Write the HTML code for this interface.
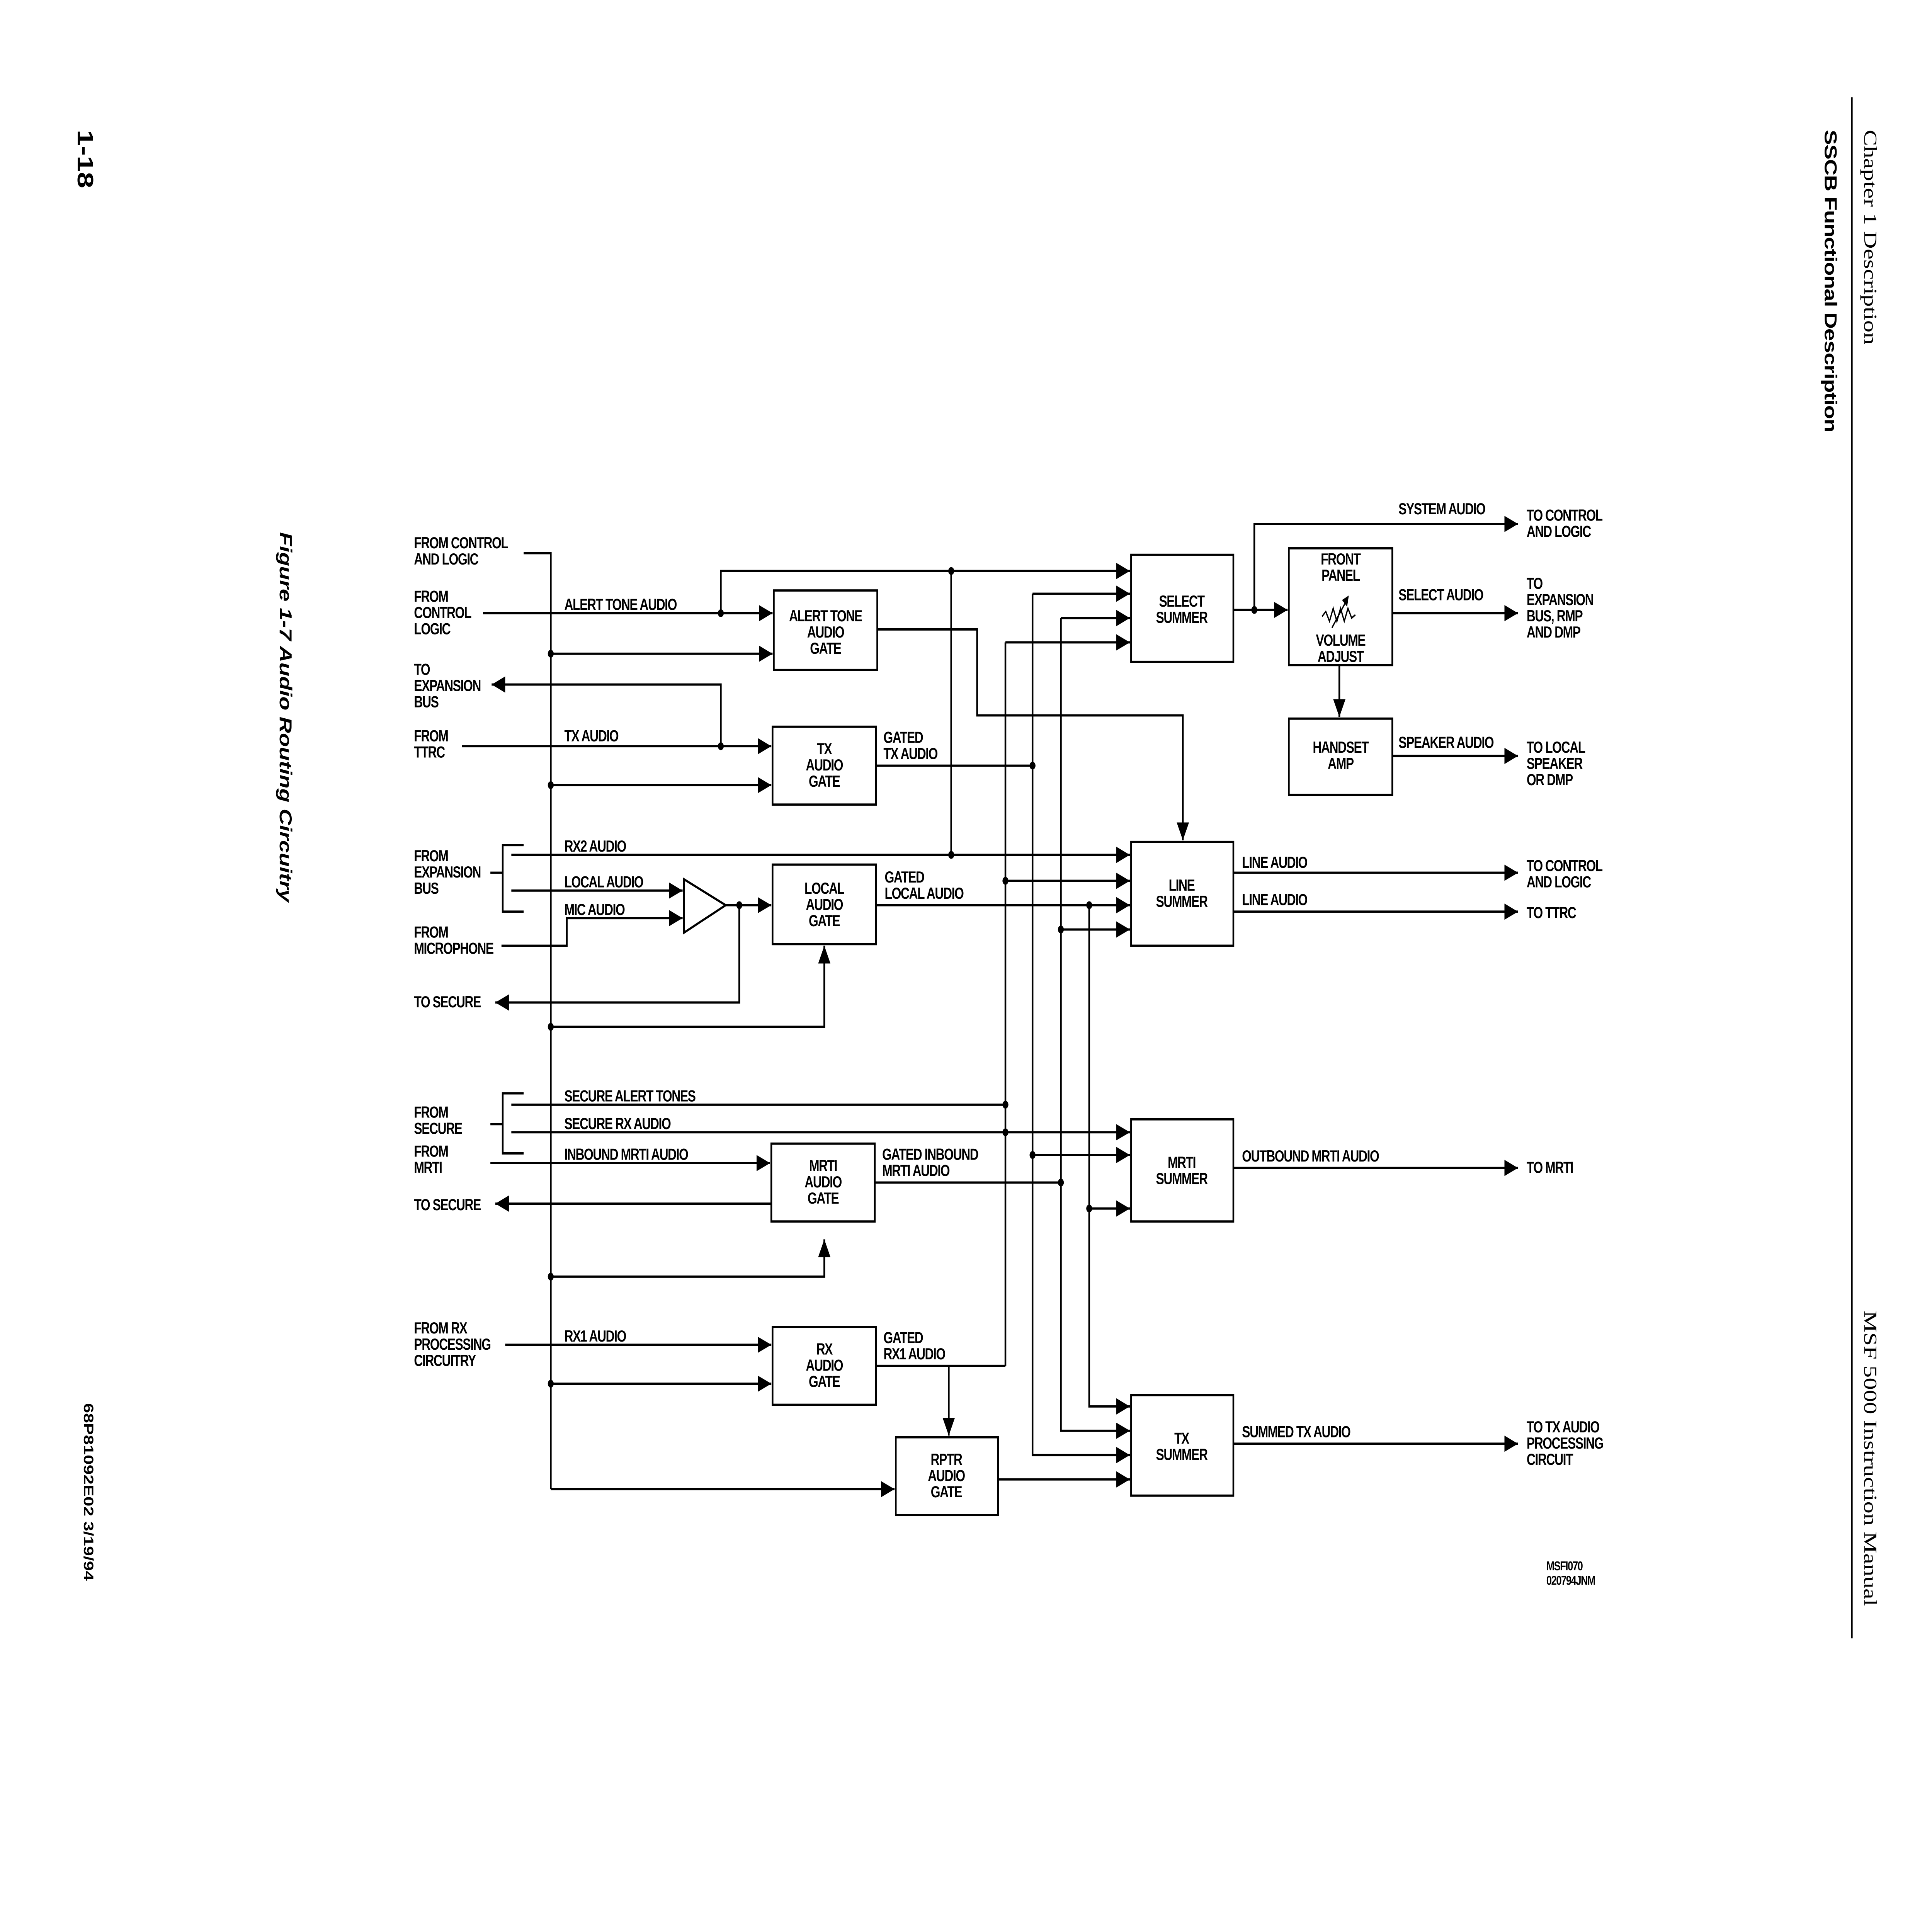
<!DOCTYPE html>
<html><head><meta charset="utf-8"><style>
html,body{margin:0;padding:0;background:#fff;width:100vw;height:100vh;overflow:hidden;}
svg{display:block;position:absolute;left:0;top:0;width:100vw;height:100vh;}
text{font-family:"Liberation Sans",Arial,sans-serif;font-weight:bold;font-size:10px;letter-spacing:-0.45px;fill:#000;}
.c{text-anchor:middle;}
</style></head><body>
<svg viewBox="0 0 1568 1191" preserveAspectRatio="none" xmlns="http://www.w3.org/2000/svg">
<defs>
<marker id="a" markerUnits="userSpaceOnUse" markerWidth="12" markerHeight="10" refX="11" refY="5" orient="auto"><path d="M0,0 L11,5 L0,10 Z" fill="#000"/></marker>
</defs>
<rect width="1568" height="1191" fill="#fff"/>
<g stroke="#000" stroke-width="1.4" fill="none">
<rect x="628" y="364" width="84" height="49"/>
<rect x="627" y="448" width="84" height="48"/>
<rect x="627" y="533" width="84" height="49"/>
<rect x="626" y="705" width="84" height="48"/>
<rect x="627" y="818" width="84" height="48"/>
<rect x="727" y="886" width="83" height="48"/>
<rect x="918" y="342" width="83" height="66"/>
<rect x="918" y="519" width="83" height="64"/>
<rect x="918" y="690" width="83" height="63"/>
<rect x="918" y="860" width="83" height="62"/>
<rect x="1046" y="338" width="84" height="72"/>
<rect x="1046" y="443" width="84" height="47"/>
<path d="M555,542 L555,575 L589,558 Z"/>
<path d="M425,521 L408,521 L408,562 L425,562 M398,538 L408,538"/>
<path d="M425,674 L408,674 L408,711 L425,711 M398,693 L408,693"/>
<path d="M425,341 L447,341 L447,918"/>
<path d="M447,918 L726,918" marker-end="url(#a)"/>
<path d="M447,403 L627,403" marker-end="url(#a)"/>
<path d="M447,484 L626,484" marker-end="url(#a)"/>
<path d="M447,633 L669,633 L669,583" marker-end="url(#a)"/>
<path d="M447,787 L669,787 L669,764" marker-end="url(#a)"/>
<path d="M447,853 L626,853" marker-end="url(#a)"/>
<path d="M392,378 L627,378" marker-end="url(#a)"/>
<path d="M585,378 L585,352 L917,352" marker-end="url(#a)"/>
<path d="M772,352 L772,527"/>
<path d="M712,388 L793,388 L793,441 L960,441 L960,518" marker-end="url(#a)"/>
<path d="M375,460 L626,460" marker-end="url(#a)"/>
<path d="M585,460 L585,422 L399,422" marker-end="url(#a)"/>
<path d="M711,472 L838,472"/>
<path d="M415,527 L917,527" marker-end="url(#a)"/>
<path d="M415,549 L554,549" marker-end="url(#a)"/>
<path d="M407,583 L460,583 L460,566 L554,566" marker-end="url(#a)"/>
<path d="M589,558 L626,558" marker-end="url(#a)"/>
<path d="M600,558 L600,618 L402,618" marker-end="url(#a)"/>
<path d="M711,558 L917,558" marker-end="url(#a)"/>
<path d="M816,543 L917,543" marker-end="url(#a)"/>
<path d="M861,573 L917,573" marker-end="url(#a)"/>
<path d="M838,366 L917,366" marker-end="url(#a)"/>
<path d="M861,381 L917,381" marker-end="url(#a)"/>
<path d="M816,396 L917,396" marker-end="url(#a)"/>
<path d="M816,396 L816,842"/>
<path d="M838,366 L838,897 L917,897" marker-end="url(#a)"/>
<path d="M861,381 L861,882 L917,882" marker-end="url(#a)"/>
<path d="M884,558 L884,867 L917,867" marker-end="url(#a)"/>
<path d="M415,681 L816,681"/>
<path d="M415,698 L917,698" marker-end="url(#a)"/>
<path d="M838,712 L917,712" marker-end="url(#a)"/>
<path d="M884,745 L917,745" marker-end="url(#a)"/>
<path d="M398,717 L625,717" marker-end="url(#a)"/>
<path d="M626,742 L402,742" marker-end="url(#a)"/>
<path d="M710,729 L861,729"/>
<path d="M410,829 L626,829" marker-end="url(#a)"/>
<path d="M711,842 L816,842"/>
<path d="M770,842 L770,885" marker-end="url(#a)"/>
<path d="M810,912 L917,912" marker-end="url(#a)"/>
<path d="M1001,376 L1045,376" marker-end="url(#a)"/>
<path d="M1018,376 L1018,323 L1232,323" marker-end="url(#a)"/>
<path d="M1130,378 L1232,378" marker-end="url(#a)"/>
<path d="M1087,410 L1087,442" marker-end="url(#a)"/>
<path d="M1130,466 L1232,466" marker-end="url(#a)"/>
<path d="M1001,538 L1232,538" marker-end="url(#a)"/>
<path d="M1001,562 L1232,562" marker-end="url(#a)"/>
<path d="M1001,720 L1232,720" marker-end="url(#a)"/>
<path d="M1001,890 L1232,890" marker-end="url(#a)"/>
<path d="M1073,380 L1076,377 L1079,383 L1082,375 L1085,383 L1088,375 L1091,383 L1094,375 L1097,381 L1100,379" stroke-width="1"/>
<path d="M1081,387 L1093,370" stroke-width="1"/>
<path d="M1090,370 L1094,368 L1093,373 Z" fill="#000" stroke-width="1"/>
<path d="M1503,60 L1503,1010" stroke-width="1.2"/>
</g>
<g fill="#000">
<circle cx="447" cy="403" r="2.4"/><circle cx="447" cy="484" r="2.4"/><circle cx="447" cy="633" r="2.4"/><circle cx="447" cy="787" r="2.4"/><circle cx="447" cy="853" r="2.4"/>
<circle cx="585" cy="378" r="2.4"/><circle cx="585" cy="460" r="2.4"/>
<circle cx="772" cy="352" r="2.4"/><circle cx="772" cy="527" r="2.4"/>
<circle cx="838" cy="472" r="2.4"/><circle cx="838" cy="712" r="2.4"/>
<circle cx="816" cy="543" r="2.4"/><circle cx="816" cy="681" r="2.4"/><circle cx="816" cy="698" r="2.4"/>
<circle cx="884" cy="558" r="2.4"/><circle cx="884" cy="745" r="2.4"/>
<circle cx="861" cy="573" r="2.4"/><circle cx="861" cy="729" r="2.4"/>
<circle cx="600" cy="558" r="2.4"/><circle cx="1018" cy="376" r="2.4"/>
</g>
<text x="336" y="338">FROM CONTROL</text><text x="336" y="348">AND LOGIC</text>
<text x="336" y="371">FROM</text><text x="336" y="381">CONTROL</text><text x="336" y="391">LOGIC</text>
<text x="336" y="416">TO</text><text x="336" y="426">EXPANSION</text><text x="336" y="436">BUS</text>
<text x="336" y="457">FROM</text><text x="336" y="467">TTRC</text>
<text x="336" y="531">FROM</text><text x="336" y="541">EXPANSION</text><text x="336" y="551">BUS</text>
<text x="336" y="578">FROM</text><text x="336" y="588">MICROPHONE</text>
<text x="336" y="621">TO SECURE</text>
<text x="336" y="689">FROM</text><text x="336" y="699">SECURE</text>
<text x="336" y="713">FROM</text><text x="336" y="723">MRTI</text>
<text x="336" y="746">TO SECURE</text>
<text x="336" y="822">FROM RX</text><text x="336" y="832">PROCESSING</text><text x="336" y="842">CIRCUITRY</text>
<text x="458" y="376">ALERT TONE AUDIO</text>
<text x="458" y="457">TX AUDIO</text>
<text x="458" y="525">RX2 AUDIO</text>
<text x="458" y="547">LOCAL AUDIO</text>
<text x="458" y="564">MIC AUDIO</text>
<text x="458" y="679">SECURE ALERT TONES</text>
<text x="458" y="696">SECURE RX AUDIO</text>
<text x="458" y="715">INBOUND MRTI AUDIO</text>
<text x="458" y="827">RX1 AUDIO</text>
<text x="717" y="458">GATED</text><text x="717" y="468">TX AUDIO</text>
<text x="718" y="544">GATED</text><text x="718" y="554">LOCAL AUDIO</text>
<text x="716" y="715">GATED INBOUND</text><text x="716" y="725">MRTI AUDIO</text>
<text x="717" y="828">GATED</text><text x="717" y="838">RX1 AUDIO</text>
<text x="1135" y="317">SYSTEM AUDIO</text>
<text x="1135" y="370">SELECT AUDIO</text>
<text x="1135" y="461">SPEAKER AUDIO</text>
<text x="1008" y="535">LINE AUDIO</text>
<text x="1008" y="558">LINE AUDIO</text>
<text x="1008" y="716">OUTBOUND MRTI AUDIO</text>
<text x="1008" y="886">SUMMED TX AUDIO</text>
<text x="1239" y="321">TO CONTROL</text><text x="1239" y="331">AND LOGIC</text>
<text x="1239" y="363">TO</text><text x="1239" y="373">EXPANSION</text><text x="1239" y="383">BUS, RMP</text><text x="1239" y="393">AND DMP</text>
<text x="1239" y="464">TO LOCAL</text><text x="1239" y="474">SPEAKER</text><text x="1239" y="484">OR DMP</text>
<text x="1239" y="537">TO CONTROL</text><text x="1239" y="547">AND LOGIC</text>
<text x="1239" y="566">TO TTRC</text>
<text x="1239" y="723">TO MRTI</text>
<text x="1239" y="883">TO TX AUDIO</text><text x="1239" y="893">PROCESSING</text><text x="1239" y="903">CIRCUIT</text>
<text x="1255" y="968" style="font-size:8px">MSFI070</text><text x="1255" y="977" style="font-size:8px">020794JNM</text>
<text class="c" x="670" y="383">ALERT TONE</text><text class="c" x="670" y="393">AUDIO</text><text class="c" x="670" y="403">GATE</text>
<text class="c" x="669" y="465">TX</text><text class="c" x="669" y="475">AUDIO</text><text class="c" x="669" y="485">GATE</text>
<text class="c" x="669" y="551">LOCAL</text><text class="c" x="669" y="561">AUDIO</text><text class="c" x="669" y="571">GATE</text>
<text class="c" x="668" y="722">MRTI</text><text class="c" x="668" y="732">AUDIO</text><text class="c" x="668" y="742">GATE</text>
<text class="c" x="669" y="835">RX</text><text class="c" x="669" y="845">AUDIO</text><text class="c" x="669" y="855">GATE</text>
<text class="c" x="768" y="903">RPTR</text><text class="c" x="768" y="913">AUDIO</text><text class="c" x="768" y="923">GATE</text>
<text class="c" x="959" y="374">SELECT</text><text class="c" x="959" y="384">SUMMER</text>
<text class="c" x="959" y="549">LINE</text><text class="c" x="959" y="559">SUMMER</text>
<text class="c" x="959" y="720">MRTI</text><text class="c" x="959" y="730">SUMMER</text>
<text class="c" x="959" y="890">TX</text><text class="c" x="959" y="900">SUMMER</text>
<text class="c" x="1088" y="348">FRONT</text><text class="c" x="1088" y="358">PANEL</text>
<text class="c" x="1088" y="398">VOLUME</text><text class="c" x="1088" y="408">ADJUST</text>
<text class="c" x="1088" y="464">HANDSET</text><text class="c" x="1088" y="474">AMP</text>
<text transform="translate(1513,80) rotate(90)" style="font-family:'Liberation Serif',serif;font-weight:normal;font-size:15px;letter-spacing:0">Chapter 1  Description</text>
<text transform="translate(1481,80) rotate(90)" style="font-size:14px;letter-spacing:-0.3px">SSCB Functional Description</text>
<text transform="translate(1513,808) rotate(90)" style="font-family:'Liberation Serif',serif;font-weight:normal;font-size:15px;letter-spacing:0">MSF 5000 Instruction Manual</text>
<text transform="translate(63,80) rotate(90)" style="font-size:18px;letter-spacing:0">1-18</text>
<text transform="translate(227,328) rotate(90)" style="font-size:14px;font-style:italic;letter-spacing:0">Figure 1-7   Audio Routing Circuitry</text>
<text transform="translate(68,865) rotate(90)" style="font-size:11px;letter-spacing:0">68P81092E02   3/19/94</text>
</svg>
</body></html>
